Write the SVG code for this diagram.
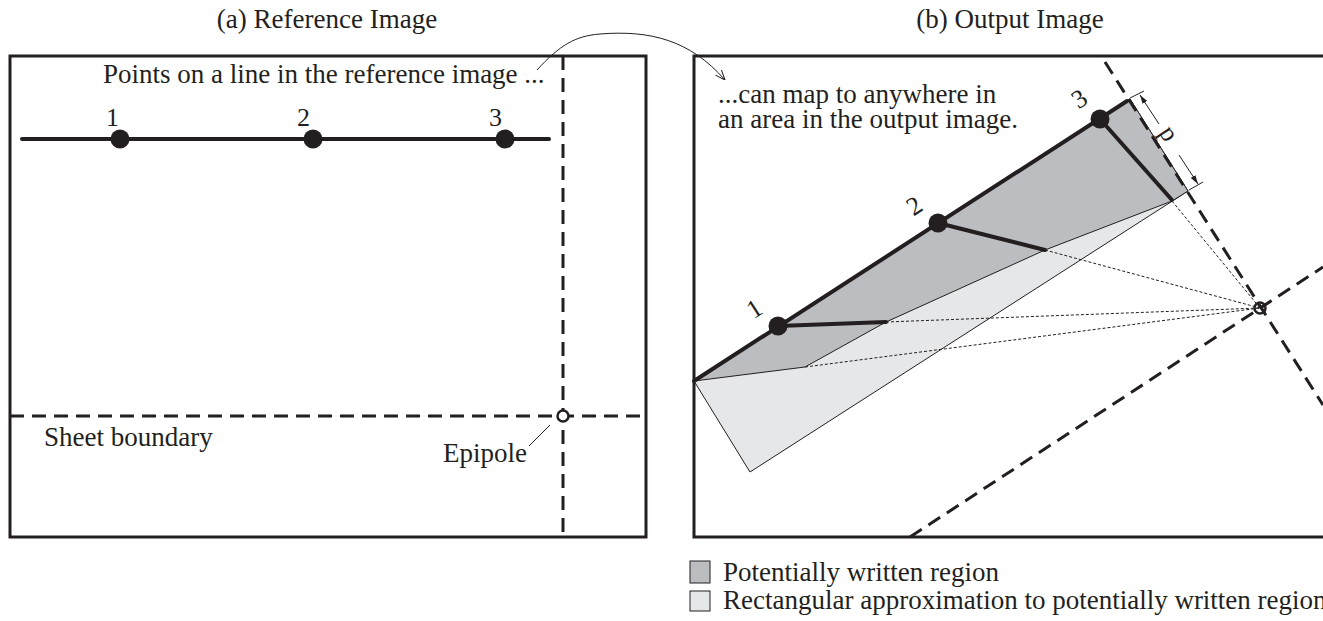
<svg xmlns="http://www.w3.org/2000/svg" width="1323" height="621" viewBox="0 0 1323 621" font-family="'Liberation Serif', 'DejaVu Serif', serif">
  <style>
    text { font-family: 'Liberation Serif', 'DejaVu Serif', serif; fill: #231f20; }
    .title { font-size: 27px; text-anchor: middle; }
    .lbl { font-size: 27px; }
    .num { font-size: 26px; }
    .frame { fill: none; stroke: #231f20; stroke-width: 3; }
    .thick { fill: none; stroke: #231f20; stroke-width: 4; stroke-linecap: round; }
    .dash { fill: none; stroke: #231f20; stroke-width: 3; stroke-dasharray: 14 8; }
    .dot { fill: none; stroke: #231f20; stroke-width: 1; stroke-dasharray: 3 2; }
    .thin { fill: none; stroke: #231f20; stroke-width: 1; }
    .pt { fill: #231f20; }
    .dark { fill: #bcbdc0; stroke: #231f20; stroke-width: 1; }
    .light { fill: #e6e7e8; stroke: #231f20; stroke-width: 1; }
  </style>
  <defs>
    <marker id="open" viewBox="0 0 10 10" refX="10" refY="5" markerWidth="10" markerHeight="10" orient="auto" markerUnits="userSpaceOnUse">
      <path d="M0,1 L10,5 L0,9" fill="none" stroke="#231f20" stroke-width="1"/>
    </marker>
    <marker id="tri" viewBox="0 0 10 10" refX="10" refY="5" markerWidth="9" markerHeight="9" orient="auto-start-reverse" markerUnits="userSpaceOnUse">
      <path d="M0,2 L10,5 L0,8 Z" fill="#231f20"/>
    </marker>
  </defs>

  <!-- panel titles -->
  <text class="title" x="327" y="28">(a) Reference Image</text>
  <text class="title" x="1010" y="28">(b) Output Image</text>

  <!-- left panel: reference image -->
  <g id="reference-image">
    <rect class="frame" x="10" y="56" width="636" height="481"/>
    <text class="lbl" x="103" y="83">Points on a line in the reference image ...</text>
    <line class="thick" x1="22" y1="139" x2="549" y2="139"/>
    <circle class="pt" cx="120" cy="139" r="9.5"/>
    <circle class="pt" cx="313" cy="139" r="9.5"/>
    <circle class="pt" cx="505" cy="139" r="9.5"/>
    <text class="num" x="106" y="126">1</text>
    <text class="num" x="297" y="126">2</text>
    <text class="num" x="489" y="126">3</text>
    <line class="dash" x1="563" y1="56" x2="563" y2="537"/>
    <line class="dash" x1="10" y1="416" x2="646" y2="416"/>
    <circle cx="563" cy="416" r="5.5" fill="#fff" stroke="#231f20" stroke-width="2.5"/>
    <text class="lbl" x="44" y="446">Sheet boundary</text>
    <line class="thin" x1="550" y1="425" x2="529" y2="446"/>
    <text class="lbl" x="443" y="462">Epipole</text>
  </g>

  <!-- right panel: output image -->
  <g id="output-image">
    <path class="frame" d="M1323,56 H694 V537 H1323"/>
    <!-- rectangular approximation -->
    <polygon class="light" points="694,381 1130,99 1188,191 750,472"/>
    <!-- potentially written region -->
    <polygon class="dark" points="694,381 1130,99 1188,191 1172,201 1045,250 886,322 805,367"/>
    <!-- rays towards the epipole -->
    <line class="dot" x1="1172" y1="201" x2="1260" y2="308"/>
    <line class="dot" x1="1045" y1="250" x2="1260" y2="308"/>
    <line class="dot" x1="886" y1="322" x2="1260" y2="308"/>
    <line class="dot" x1="805" y1="367" x2="1260" y2="308"/>
    <!-- epipolar dashed lines -->
    <line class="dash" x1="1105" y1="62" x2="1323" y2="405"/>
    <line class="dash" x1="910" y1="537" x2="1323" y2="267"/>
    <circle cx="1260" cy="308" r="5.5" fill="none" stroke="#231f20" stroke-width="2.5"/>
    <!-- mapped line and points -->
    <line class="thick" x1="694" y1="381" x2="1127" y2="101"/>
    <line class="thick" x1="1100" y1="119" x2="1172" y2="200"/>
    <line class="thick" x1="938" y1="223" x2="1045" y2="250"/>
    <line class="thick" x1="778" y1="326" x2="886" y2="322"/>
    <circle class="pt" cx="778" cy="326" r="9.5"/>
    <circle class="pt" cx="938" cy="223" r="9.5"/>
    <circle class="pt" cx="1100" cy="119" r="9.5"/>
    <text class="num" transform="translate(759,316) rotate(-33)" text-anchor="middle">1</text>
    <text class="num" transform="translate(919,213) rotate(-33)" text-anchor="middle">2</text>
    <text class="num" transform="translate(1084,106) rotate(-33)" text-anchor="middle">3</text>
    <!-- width dimension p -->
    <line class="thin" x1="1130" y1="98" x2="1144" y2="91"/>
    <line class="thin" x1="1189" y1="190" x2="1203" y2="182"/>
    <line class="thin" x1="1140" y1="95" x2="1159" y2="124" marker-start="url(#tri)"/>
    <line class="thin" x1="1179" y1="155" x2="1198" y2="184" marker-end="url(#tri)"/>
    <text class="num" transform="translate(1162,138) rotate(57)" text-anchor="middle">p</text>
    <text class="lbl" x="718" y="103">...can map to anywhere in</text>
    <text class="lbl" x="718" y="128">an area in the output image.</text>
  </g>

  <!-- connector between the two panels -->
  <g id="connectors">
    <path class="thin" d="M537,70 C560,45 575,36 600,34 C650,30 690,40 725,80" marker-end="url(#open)"/>
  </g>

  <!-- legend -->
  <g id="legend">
    <rect class="dark" x="690" y="561" width="20" height="22"/>
    <text class="lbl" x="723" y="581">Potentially written region</text>
    <rect class="light" x="690" y="591" width="20" height="20"/>
    <text class="lbl" x="723" y="609">Rectangular approximation to potentially written region</text>
  </g>
</svg>
